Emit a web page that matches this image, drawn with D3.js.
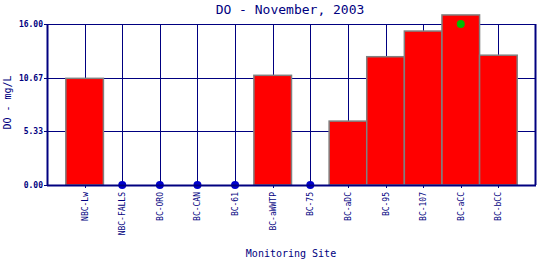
<!DOCTYPE html>
<html>
<head>
<meta charset="utf-8">
<script src="https://cdn.jsdelivr.net/npm/d3@7"></script>
<style>
    body { margin: 0; background: #fff; }
    svg { display: block; }
    text { font-family: "DejaVu Sans Mono", "Liberation Mono", monospace; fill: #000080; }
</style>
</head>
<body>
<svg id="chart" width="540" height="260"></svg>
<script>
    // monitoring sites along the x axis
    const sites = ['NBC-Lw', 'NBC-FALLS', 'BC-ORO', 'BC-CAN', 'BC-61', 'BC-aWWTP', 'BC-75',
                   'BC-aDC', 'BC-95', 'BC-107', 'BC-aCC', 'BC-bCC'];
    // DO values (mg/L), null = no sample
    const doValues = [10.6, null, null, null, null, 10.9, null, 6.35, 12.75, 15.3, 16.9, 12.9];
    // green marker value per site
    const markerValues = [null, null, null, null, null, null, null, null, null, null, 16.0, null];
    const yTicks = [0, 16 / 3, 32 / 3, 16];

    const navy = '#000080';
    const margin = {top: 24, right: 4, bottom: 75, left: 47};
    const width = 540 - margin.left - margin.right;
    const height = 260 - margin.top - margin.bottom;

    const svg = d3.select('#chart');
    const chart = svg.append('g').attr('transform', 'translate(' + margin.left + ',' + margin.top + ')');

    const x = d3.scaleLinear().domain([0, sites.length + 1]).range([0, width]);
    const y = d3.scaleLinear().domain([0, 16]).range([height, 0]);

    // horizontal grid
    chart.selectAll('.hgrid').data(yTicks).enter().append('line')
        .attr('x1', 0).attr('x2', width)
        .attr('y1', d => Math.round(y(d)) + 0.5).attr('y2', d => Math.round(y(d)) + 0.5)
        .attr('stroke', navy);

    // vertical grid at each site
    chart.selectAll('.vgrid').data(sites).enter().append('line')
        .attr('x1', (d, i) => Math.round(x(i + 1)) + 0.5).attr('x2', (d, i) => Math.round(x(i + 1)) + 0.5)
        .attr('y1', 0).attr('y2', height + 3)
        .attr('stroke', navy);

    // right border
    chart.append('line')
        .attr('x1', width - 0.5).attr('x2', width - 0.5)
        .attr('y1', 0).attr('y2', height)
        .attr('stroke', navy).attr('stroke-width', 2);

    // bars
    const barData = sites.map((s, i) => ({i: i, v: doValues[i]})).filter(d => d.v !== null);
    chart.selectAll('.bar').data(barData).enter().append('rect')
        .attr('x', d => x(d.i + 0.5))
        .attr('width', d => x(d.i + 1.5) - x(d.i + 0.5))
        .attr('y', d => y(d.v))
        .attr('height', d => y(0) - y(d.v))
        .attr('fill', '#ff0000')
        .attr('stroke', '#808080')
        .attr('stroke-width', 1.5);

    // blue dots where there is no sample
    const missing = sites.map((s, i) => ({i: i, v: doValues[i]})).filter(d => d.v === null);
    chart.selectAll('.nodata').data(missing).enter().append('circle')
        .attr('cx', d => x(d.i + 1)).attr('cy', y(0)).attr('r', 4)
        .attr('fill', '#0000cc');

    // green markers
    const markers = markerValues.map((v, i) => ({i: i, v: v})).filter(d => d.v !== null);
    chart.selectAll('.marker').data(markers).enter().append('circle')
        .attr('cx', d => x(d.i + 1)).attr('cy', d => y(d.v)).attr('r', 4)
        .attr('fill', '#00bb00');

    // axes
    chart.append('line')
        .attr('x1', 0.5).attr('x2', 0.5).attr('y1', 0).attr('y2', height + 1)
        .attr('stroke', navy).attr('stroke-width', 2);
    chart.append('line')
        .attr('x1', 0).attr('x2', width).attr('y1', height + 0.5).attr('y2', height + 0.5)
        .attr('stroke', navy).attr('stroke-width', 2);
    chart.selectAll('.ytick').data(yTicks).enter().append('line')
        .attr('x1', -3).attr('x2', 0)
        .attr('y1', d => Math.round(y(d)) + 0.5).attr('y2', d => Math.round(y(d)) + 0.5)
        .attr('stroke', navy);
    chart.selectAll('.ylabel').data(yTicks).enter().append('text')
        .attr('x', -4).attr('y', d => y(d) + 3)
        .attr('text-anchor', 'end')
        .style('font-size', '8px').style('font-weight', 'bold')
        .text(d => d.toFixed(2));

    // x labels, rotated
    chart.selectAll('.xlabel').data(sites).enter().append('text')
        .attr('transform', (d, i) => 'translate(' + (x(i + 1) + 3) + ',' + (height + 7) + ') rotate(-90)')
        .attr('text-anchor', 'end')
        .style('font-size', '8px')
        .text(d => d);

    // titles
    svg.append('text')
        .attr('x', 290).attr('y', 14)
        .attr('text-anchor', 'middle')
        .style('font-size', '13px')
        .text('DO - November, 2003');
    svg.append('text')
        .attr('x', 291).attr('y', 257)
        .attr('text-anchor', 'middle')
        .style('font-size', '10px')
        .text('Monitoring Site');
    svg.append('text')
        .attr('transform', 'translate(11,' + (margin.top + height / 2 - 2) + ') rotate(-90)')
        .attr('text-anchor', 'middle')
        .style('font-size', '10px')
        .text('DO - mg/L');
</script>
</body>
</html>
